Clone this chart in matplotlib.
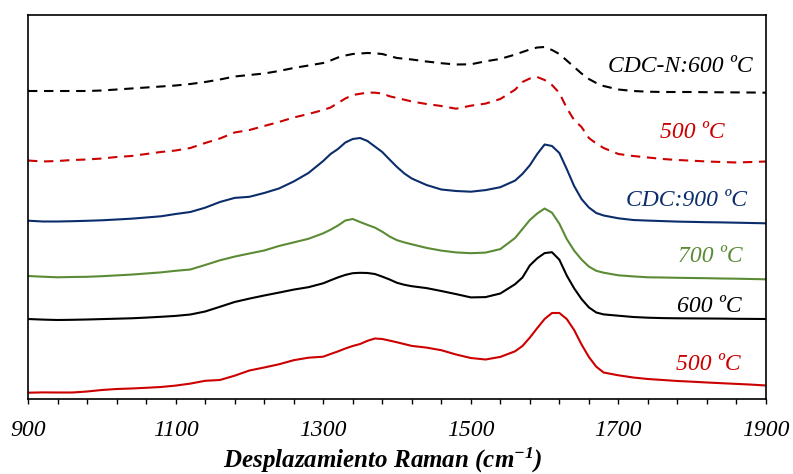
import numpy as np
import matplotlib
matplotlib.use('Agg')
import matplotlib.pyplot as plt
from matplotlib.ticker import FixedLocator

# Raman shift (cm-1), sampled finer around the D and G bands
shift = ([900, 920, 940, 960, 980, 1000, 1020, 1040, 1060, 1080,
          1100, 1120, 1140, 1160, 1180, 1200, 1220, 1240, 1260, 1280]
         + [1300, 1310, 1320, 1330, 1340, 1350, 1360, 1370, 1380, 1390, 1400, 1410, 1420]
         + [1440, 1460, 1480, 1500, 1520, 1540]
         + [1560, 1570, 1580, 1590, 1600, 1610, 1620, 1630, 1640, 1650, 1660, 1670, 1680]
         + [1700, 1720, 1740, 1760, 1780, 1800, 1820, 1840, 1860, 1880, 1900])

# stacked intensities (a.u., vertical offsets included)
cdcn_600 = ([309, 309, 309, 309, 309, 309.5, 310.5, 311.5, 312.5, 313.5,
             314.5, 316, 318, 320.5, 323.5, 325, 326.5, 329, 332, 334.5]
            + [337, 339.5, 342.5, 344.5, 346, 346.5, 347, 346.7, 346, 344, 342, 341.3, 340.5]
            + [338.5, 336.8, 335.5, 335.7, 338.7, 341.1]
            + [345.4, 348, 350.5, 352.5, 353, 350, 346, 339.5, 333, 326.5, 321, 317, 314]
            + [310.5, 309, 308.3, 308, 308, 308, 307.8, 307.7, 307.6, 307.5, 307.3])
cdcn_500 = ([239.5, 238.5, 239, 240, 240.5, 241.5, 243, 244, 246, 248,
             249.5, 252, 257, 261.5, 267.5, 270, 274, 278, 282.5, 286]
            + [290, 292.5, 297, 301.5, 305, 306.2, 307.5, 307.3, 306.5, 303.7, 302, 300.3, 298.5]
            + [296, 294, 291.3, 294.3, 296.4, 301]
            + [310.3, 318, 321.5, 323, 320, 315, 307, 292, 280, 273, 262, 256.5, 252]
            + [246, 244, 242.5, 241, 240, 239.3, 238.5, 238, 237.5, 238, 238.5])
cdc_900 = ([179.3, 178.5, 178.5, 178.8, 179.2, 179.7, 180.5, 181.3, 182.5, 183.7,
            186, 188, 192.3, 198, 202.1, 203.2, 207, 211.5, 218.5, 227]
           + [239, 246, 251, 257.5, 261, 262, 259, 253.5, 248, 240.4, 233, 226.5, 221.5]
           + [215, 210.5, 209, 208.3, 209.9, 212.8]
           + [219.4, 226.1, 234.7, 246, 255.5, 254, 247, 231, 214, 201, 192.5, 187, 184.5]
           + [181.7, 180, 179.4, 178.9, 178.4, 178.1, 177.8, 177.6, 177.3, 177, 176.7])
cdc_700 = ([124, 123.3, 122.7, 123, 123.2, 123.8, 124.6, 125.4, 126.5, 127.6,
            129.2, 130.5, 135, 139.7, 143.4, 146.5, 149.5, 154, 157.6, 161.2]
           + [166.7, 170.3, 174.5, 179.5, 181, 178, 175.1, 172.4, 168.3, 163.5, 159.8, 157.6, 155.7]
           + [152.1, 149.4, 147.6, 146.8, 147.4, 150.9]
           + [162, 171, 180, 186.5, 191.5, 187.3, 176.3, 161, 149.4, 140.5, 133.4, 129.2, 127.3]
           + [124.7, 123.6, 122.7, 122.5, 122.2, 122, 121.8, 121.5, 121.3, 121, 120.7])
cdc_600 = ([81, 80.4, 80, 80.2, 80.5, 80.9, 81.3, 81.7, 82.4, 83.2,
            84.1, 85.5, 88.5, 93.2, 98, 101.4, 104.5, 107.4, 110.4, 112.8]
           + [116.7, 119.7, 122.6, 125.1, 126.8, 127.2, 127, 126, 123.4, 120.5, 117.2, 115.2, 113.8]
           + [111.9, 109, 105.9, 102.6, 102.9, 106.5]
           + [115.8, 122.5, 134.6, 141.7, 146.9, 147.8, 140.3, 124.5, 111.7, 101, 92.6, 87.5, 85.6]
           + [84.3, 83, 82.3, 81.9, 81.7, 81.6, 81.5, 81.4, 81.2, 81.1, 81])
cdc_500 = ([7.3, 7.6, 7.5, 7.5, 8.5, 10, 11, 11.5, 12.2, 13,
            14.4, 16.4, 19.2, 20, 24.3, 29.5, 32.5, 35.7, 39.8, 42.3]
           + [43.3, 46, 48.6, 51.5, 54, 56, 59.2, 61.5, 61, 59.4, 57.7, 55.9, 54.1]
           + [52.4, 49.8, 45.5, 42, 40.5, 43.1]
           + [48.7, 54, 62.4, 71.9, 81, 87, 87, 81, 70, 55.6, 43, 33.3, 27.5]
           + [24.7, 22.5, 21, 20, 19, 18.3, 17.5, 16.8, 16.1, 15.4, 14.5])

labels = ['CDC-N:600 ºC', '500 ºC', 'CDC:900 ºC', '700 ºC', '600 ºC', '500 ºC']
label_x = [1882, 1844, 1874, 1869, 1867, 1865]
label_y = [333, 267, 200, 144, 93, 35]

RED = '#cc0000'
BLUE = '#0c2d6c'
GREEN = '#5b8c35'

series = [cdcn_600, cdcn_500, cdc_900, cdc_700, cdc_600, cdc_500]
colors = ['black', RED, BLUE, GREEN, 'black', RED]
styles = ['--', '--', '-', '-', '-', '-']

plt.rcParams['font.family'] = ['Liberation Serif', 'DejaVu Serif']
plt.rcParams['mathtext.fontset'] = 'custom'
plt.rcParams['mathtext.rm'] = 'Liberation Serif:bold:italic'
plt.rcParams['mathtext.it'] = 'Liberation Serif:bold:italic'

fig = plt.figure(figsize=(7.93, 4.74), dpi=100)
ax = fig.add_axes([28 / 793, 75 / 474, 738 / 793, 384 / 474])

for y, c, ls in zip(series, colors, styles):
    line, = ax.plot(shift, y, color=c, lw=1.5, ls=ls)
    if ls == '--':
        line.set_dashes((4.5, 3.2))

for txt, x, y, c in zip(labels, label_x, label_y, colors):
    ax.text(x, y, txt, color=c, fontsize=17, style='italic',
            ha='right', va='center')

ax.set_xlim(900, 1900)
ax.set_ylim(1, 385)
ax.set_xticks(np.arange(900, 1901, 200))
ax.xaxis.set_minor_locator(FixedLocator(np.arange(900, 1901, 40)))
ax.tick_params(axis='x', which='both', direction='out', length=3.6,
               width=1, labelsize=17, pad=11.5)
ax.tick_params(axis='y', left=False, labelleft=False)
for lab in ax.get_xticklabels():
    lab.set_fontstyle('italic')
for sp in ax.spines.values():
    sp.set_linewidth(1.2)

fig.text(383 / 793, 6.5 / 474, 'Desplazamiento Raman (cm$^{-1}$)', fontsize=18,
         fontweight='bold', style='italic', ha='center', va='baseline')

fig.savefig('out.png', dpi=100)
